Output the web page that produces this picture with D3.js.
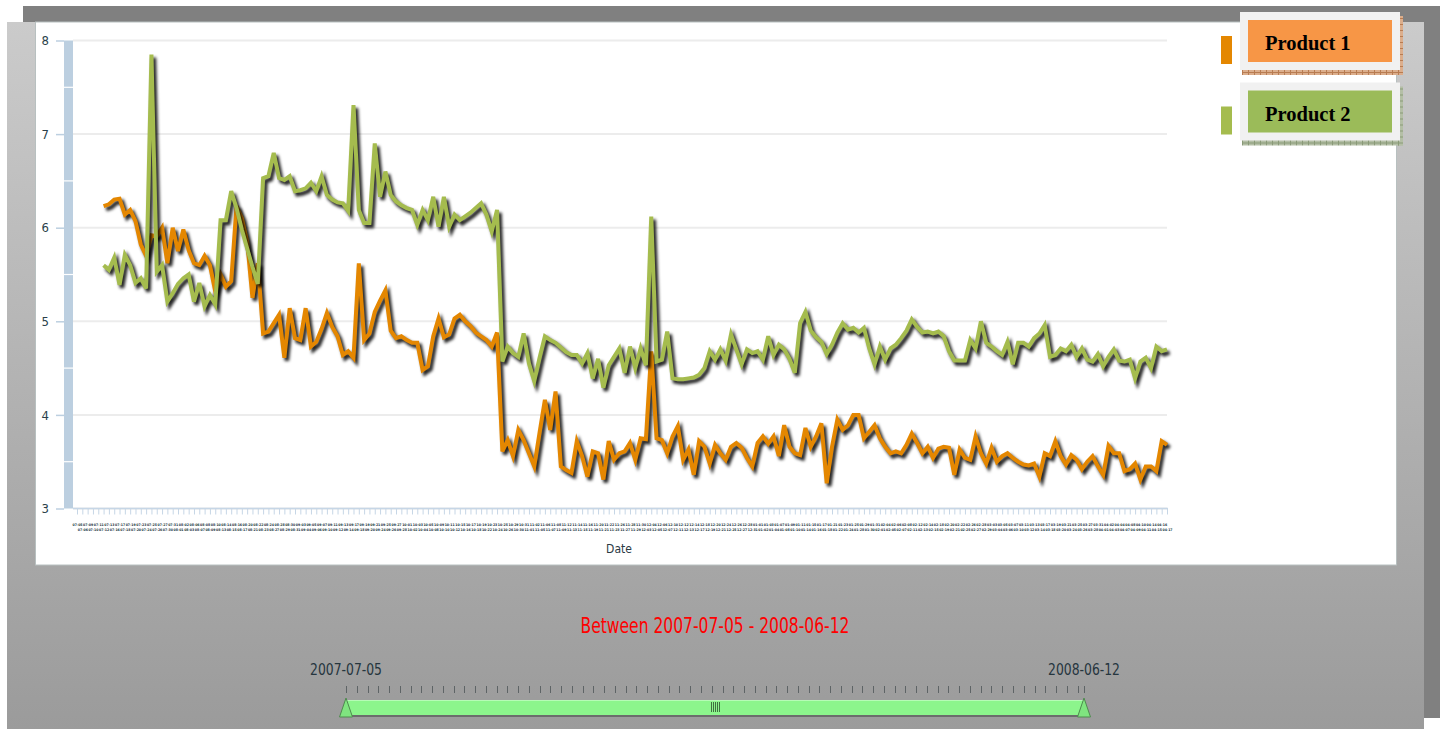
<!DOCTYPE html>
<html>
<head>
<meta charset="utf-8">
<script src="https://cdn.jsdelivr.net/npm/d3@7"></script>
<style>
  html, body { margin: 0; padding: 0; background: #fff; overflow: hidden; }
  svg { display: block; }
</style>
</head>
<body>
<svg id="chart" width="1445" height="729"></svg>
<script>
// ---- data -------------------------------------------------------------
const seriesNames = ["Product 1", "Product 2"];

const product1 = [
  6.23, 6.25, 6.30, 6.31, 6.14, 6.19, 6.07, 5.82, 5.70, 5.92,
  5.91, 6.00, 5.62, 6.00, 5.75, 5.98, 5.76, 5.62, 5.60, 5.70,
  5.60, 5.32, 5.50, 5.37, 5.43, 6.23, 6.10, 5.85, 5.25, 5.62,
  4.87, 4.89, 4.98, 5.07, 4.61, 5.14, 4.82, 4.80, 5.14, 4.73,
  4.78, 4.92, 5.09, 4.94, 4.84, 4.64, 4.68, 4.61, 5.62, 4.80,
  4.87, 5.10, 5.22, 5.33, 4.90, 4.82, 4.84, 4.80, 4.77, 4.77,
  4.48, 4.52, 4.84, 5.03, 4.83, 4.86, 5.03, 5.07, 5.00, 4.95,
  4.88, 4.84, 4.80, 4.73, 4.88, 3.61, 3.73, 3.56, 3.84, 3.73,
  3.59, 3.45, 3.81, 4.16, 3.84, 4.25, 3.45, 3.41, 3.38, 3.72,
  3.56, 3.34, 3.61, 3.59, 3.31, 3.72, 3.52, 3.59, 3.61, 3.70,
  3.52, 3.75, 3.74, 4.68, 3.75, 3.73, 3.59, 3.77, 3.88, 3.52,
  3.63, 3.36, 3.72, 3.66, 3.48, 3.68, 3.59, 3.52, 3.66, 3.70,
  3.65, 3.54, 3.45, 3.70, 3.77, 3.69, 3.77, 3.56, 3.89, 3.66,
  3.59, 3.57, 3.86, 3.66, 3.77, 3.91, 3.27, 3.66, 3.95, 3.84,
  3.89, 4.00, 4.00, 3.75, 3.82, 3.89, 3.75, 3.66, 3.59, 3.61,
  3.59, 3.68, 3.80, 3.70, 3.59, 3.66, 3.54, 3.64, 3.66, 3.65,
  3.36, 3.63, 3.54, 3.52, 3.77, 3.59, 3.48, 3.65, 3.50, 3.56,
  3.59, 3.54, 3.50, 3.47, 3.46, 3.48, 3.34, 3.59, 3.56, 3.72,
  3.56, 3.47, 3.57, 3.52, 3.42, 3.50, 3.56, 3.45, 3.36, 3.67,
  3.59, 3.59, 3.40, 3.42, 3.48, 3.31, 3.45, 3.45, 3.40, 3.72,
  3.68
];

const product2 = [
  5.60, 5.55, 5.68, 5.39, 5.71, 5.60, 5.41, 5.46, 5.35, 7.85,
  5.53, 5.60, 5.21, 5.30, 5.40, 5.46, 5.50, 5.21, 5.41, 5.16,
  5.28, 5.18, 6.08, 6.08, 6.39, 6.21, 5.98, 5.78, 5.58, 5.40,
  6.53, 6.55, 6.80, 6.53, 6.51, 6.55, 6.39, 6.40, 6.42, 6.48,
  6.39, 6.55, 6.35, 6.30, 6.27, 6.26, 6.18, 7.31, 6.19, 6.05,
  6.05, 6.90, 6.33, 6.60, 6.35, 6.28, 6.24, 6.21, 6.19, 6.03,
  6.19, 6.08, 6.33, 6.01, 6.33, 6.01, 6.14, 6.08, 6.12, 6.16,
  6.21, 6.26, 6.14, 5.96, 6.19, 4.57, 4.73, 4.66, 4.62, 4.87,
  4.55, 4.36, 4.61, 4.84, 4.80, 4.77, 4.72, 4.67, 4.64, 4.64,
  4.55, 4.66, 4.39, 4.60, 4.29, 4.53, 4.62, 4.71, 4.45, 4.73,
  4.50, 4.71, 4.53, 6.12, 4.57, 4.59, 4.89, 4.39, 4.38, 4.38,
  4.39, 4.40, 4.43, 4.50, 4.68, 4.59, 4.70, 4.58, 4.86, 4.70,
  4.54, 4.70, 4.66, 4.68, 4.59, 4.84, 4.64, 4.75, 4.70, 4.60,
  4.45, 4.98, 5.10, 4.90, 4.83, 4.78, 4.65, 4.75, 4.88, 4.98,
  4.91, 4.93, 4.88, 4.93, 4.71, 4.54, 4.73, 4.59, 4.71, 4.75,
  4.82, 4.90, 5.02, 4.94, 4.88, 4.89, 4.87, 4.89, 4.84, 4.68,
  4.58, 4.58, 4.58, 4.80, 4.71, 5.00, 4.77, 4.73, 4.68, 4.64,
  4.78, 4.54, 4.77, 4.77, 4.73, 4.82, 4.87, 4.96, 4.62, 4.64,
  4.71, 4.68, 4.75, 4.62, 4.71, 4.59, 4.57, 4.65, 4.52, 4.62,
  4.70, 4.58, 4.57, 4.59, 4.39, 4.57, 4.61, 4.50, 4.73, 4.68,
  4.70
];

const yTicks = [3, 4, 5, 6, 7, 8];
const yHalfTicks = [3.5, 4.5, 5.5, 6.5, 7.5];
const rangeStart = "2007-07-05";
const rangeEnd = "2008-06-12";
const leadingEmptyDates = 5;   // axis dates before the first reading
const sliderStepDays = 5;

// ---- helpers ------------------------------------------------------------
const parseDay = d3.utcParse("%Y-%m-%d");
const fmtDay = d3.utcFormat("%Y-%m-%d");
const fmtTick = d3.utcFormat("%m-%d");
const t0 = parseDay(rangeStart), t1 = parseDay(rangeEnd);

const nDates = leadingEmptyDates + product1.length;
const dates = d3.utcDay.range(t0, d3.utcDay.offset(t1, 1))
  .filter(d => d.getUTCDay() % 6 !== 0)
  .slice(0, nDates)
  .map(fmtDay);

const svg = d3.select("#chart");
const defs = svg.append("defs");

// ---- frame ------------------------------------------------------------
const bgGrad = defs.append("linearGradient").attr("id", "panelGrad")
  .attr("x1", 0).attr("y1", 0).attr("x2", 0).attr("y2", 1);
bgGrad.append("stop").attr("offset", "0%").attr("stop-color", "#cbcbcb");
bgGrad.append("stop").attr("offset", "100%").attr("stop-color", "#9b9b9b");

svg.append("rect").attr("x", 23).attr("y", 6).attr("width", 1417).attr("height", 712).attr("fill", "#808080");
svg.append("rect").attr("x", 7).attr("y", 22).attr("width", 1417).attr("height", 707).attr("fill", "url(#panelGrad)");
svg.append("rect").attr("x", 35.5).attr("y", 22).attr("width", 1361).attr("height", 543)
  .attr("fill", "#fff").attr("stroke", "#b8c0c0").attr("stroke-width", 1);

// ---- scales -----------------------------------------------------------
const x = d3.scalePoint().domain(dates).range([77, 1167]);
const y = d3.scaleLinear().domain([3, 8]).range([508.5, 40.5]);

const plot = svg.append("g");

// grid
plot.append("g").selectAll("line").data(yTicks).join("line")
  .attr("x1", 73).attr("x2", 1167)
  .attr("y1", d => y(d)).attr("y2", d => y(d))
  .attr("stroke", "#ececec").attr("stroke-width", 2);

// y axis: thick bar with notches at the half values
plot.append("rect").attr("x", 64).attr("y", y(8)).attr("width", 9).attr("height", y(3) - y(8))
  .attr("fill", "#bccfe0");
plot.append("g").selectAll("line").data(yHalfTicks).join("line")
  .attr("x1", 64).attr("x2", 73)
  .attr("y1", d => y(d)).attr("y2", d => y(d))
  .attr("stroke", "#fff").attr("stroke-width", 1.2);

const yAxis = plot.append("g").attr("transform", "translate(64,0)")
  .call(d3.axisLeft(y).tickValues(yTicks).tickSize(8).tickPadding(7).tickFormat(d3.format("d")));
yAxis.select(".domain").remove();
yAxis.selectAll(".tick line").attr("stroke", "#bccfe0").attr("stroke-width", 1.5);
yAxis.selectAll(".tick text")
  .attr("fill", "#2a3f4a")
  .style("font-family", "'DejaVu Sans Condensed','Liberation Sans Narrow','DejaVu Sans',sans-serif")
  .style("font-size", "13px");

// x axis: one tick per date, labels staggered on two rows
const xAxis = plot.append("g").attr("transform", "translate(0,508.5)")
  .call(d3.axisBottom(x).tickSize(6).tickSizeOuter(0).tickFormat(d => fmtTick(parseDay(d))));
xAxis.select(".domain").attr("stroke", "#c6d6e6").attr("stroke-width", 1.5)
  .attr("d", "M73,0H1168");
xAxis.selectAll(".tick line").attr("stroke", "#c6d6e6").attr("stroke-width", 1);
xAxis.selectAll(".tick text")
  .attr("y", (d, i) => (i % 2 === 0 ? 17 : 22))
  .attr("dy", null)
  .attr("fill", "#22343e")
  .style("font-family", "'DejaVu Sans Condensed','DejaVu Sans',sans-serif")
  .style("font-weight", "bold")
  .style("font-size", "3.5px");

plot.append("text").attr("x", 619).attr("y", 553).attr("text-anchor", "middle")
  .attr("fill", "#2a3a44")
  .style("font-family", "'DejaVu Sans Condensed','DejaVu Sans',sans-serif")
  .style("font-size", "12px")
  .text("Date");

// ---- lines ------------------------------------------------------------
const shadow = defs.append("filter").attr("id", "lineShadow")
  .attr("x", "-5%").attr("y", "-5%").attr("width", "110%").attr("height", "110%");
shadow.append("feGaussianBlur").attr("stdDeviation", 1.4);

const series = [
  { name: seriesNames[0], color: "#e48701", values: product1 },
  { name: seriesNames[1], color: "#a5bc4e", values: product2 }
];

const line = d3.line()
  .x(d => x(d.date))
  .y(d => y(d.value));

series.forEach(s => {
  const pts = s.values.map((v, i) => ({ date: dates[i + leadingEmptyDates], value: v }));
  plot.append("path").datum(pts)
    .attr("d", line)
    .attr("fill", "none")
    .attr("stroke", "#000")
    .attr("stroke-opacity", 0.85)
    .attr("stroke-width", 4.5)
    .attr("stroke-linejoin", "miter")
    .attr("transform", "translate(2.5,3)")
    .attr("filter", "url(#lineShadow)");
  plot.append("path").datum(pts)
    .attr("d", line)
    .attr("fill", "none")
    .attr("stroke", s.color)
    .attr("stroke-width", 4)
    .attr("stroke-linejoin", "miter");
});

// ---- legend -----------------------------------------------------------
const legendFill = ["#f79646", "#9bbb59"];
const rimBase = ["#dcae8c", "#b4bfa6"];
const rimLine = ["#b87c52", "#8a9a78"];
rimBase.forEach((c, i) => {
  const p = defs.append("pattern").attr("id", `rim${i}`)
    .attr("patternUnits", "userSpaceOnUse").attr("width", 6).attr("height", 6);
  p.append("rect").attr("width", 6).attr("height", 6).attr("fill", c);
  p.append("path").attr("d", "M0,0.5H6M0.5,0V6").attr("stroke", rimLine[i]).attr("stroke-width", 1);
});

const legend = svg.append("g");
series.forEach((s, i) => {
  const top = 12 + i * 70.5;
  const g = legend.append("g").attr("transform", `translate(0,${top})`);
  g.append("rect").attr("x", 1221).attr("y", 24).attr("width", 11).attr("height", 28)
    .attr("fill", s.color);
  // textured rim below and right of the box
  g.append("rect").attr("x", 1242).attr("y", 57).attr("width", 161).attr("height", 6)
    .attr("fill", `url(#rim${i})`);
  g.append("rect").attr("x", 1398).attr("y", 4).attr("width", 5).attr("height", 59)
    .attr("fill", `url(#rim${i})`);
  g.append("rect").attr("x", 1240).attr("y", 0).attr("width", 160).attr("height", 58)
    .attr("fill", "#f1f1f1");
  g.append("rect").attr("x", 1248).attr("y", 8).attr("width", 144).attr("height", 42)
    .attr("fill", legendFill[i]);
  g.append("text").attr("x", 1265).attr("y", 38)
    .attr("fill", "#000")
    .style("font-family", "'Liberation Serif','Times New Roman',serif")
    .style("font-weight", "bold")
    .style("font-size", "20.5px")
    .text(s.name);
});

// ---- range slider -----------------------------------------------------
const condensed = "'DejaVu Sans Condensed','Liberation Sans Narrow','DejaVu Sans',sans-serif";
svg.append("text").attr("x", 715).attr("y", 633).attr("text-anchor", "middle")
  .attr("fill", "#ff0000")
  .attr("textLength", 269).attr("lengthAdjust", "spacingAndGlyphs")
  .style("font-family", condensed)
  .style("font-size", "21px")
  .text(`Between ${rangeStart} - ${rangeEnd}`);

const sx = d3.scaleUtc().domain([t0, t1]).range([346, 1084]);
const sliderTicks = d3.utcDay.range(t0, t1, sliderStepDays).concat([t1]);

svg.append("g").selectAll("line").data(sliderTicks).join("line")
  .attr("x1", d => Math.round(sx(d)) + 0.5).attr("x2", d => Math.round(sx(d)) + 0.5)
  .attr("y1", 686).attr("y2", 693)
  .attr("stroke", "#5e6466").attr("stroke-width", 1);

[[t0, rangeStart], [t1, rangeEnd]].forEach(([d, label]) => {
  svg.append("text").attr("x", sx(d)).attr("y", 675).attr("text-anchor", "middle")
    .attr("fill", "#25353e")
    .attr("textLength", 72).attr("lengthAdjust", "spacingAndGlyphs")
    .style("font-family", condensed)
    .style("font-size", "15px")
    .text(label);
});

svg.append("rect").attr("x", sx(t0)).attr("y", 701).attr("width", sx(t1) - sx(t0)).attr("height", 16)
  .attr("fill", "#6c6c6c");
svg.append("rect").attr("x", sx(t0)).attr("y", 700).attr("width", sx(t1) - sx(t0)).attr("height", 15)
  .attr("fill", "#8cf58c");
svg.append("line").attr("x1", sx(t0)).attr("x2", sx(t1)).attr("y1", 700.5).attr("y2", 700.5)
  .attr("stroke", "#b6fbb6").attr("stroke-width", 1);

// grip in the middle of the bar
const mid = (sx(t0) + sx(t1)) / 2;
svg.append("g").selectAll("line").data(d3.range(-4, 5, 2)).join("line")
  .attr("x1", d => mid + d + 0.5).attr("x2", d => mid + d + 0.5)
  .attr("y1", 702).attr("y2", 712)
  .attr("stroke", "#3f6f3f").attr("stroke-width", 1);

// handles
[t0, t1].forEach(d => {
  const cx = sx(d);
  svg.append("path")
    .attr("d", `M${cx},698 L${cx - 6.5},717 L${cx + 6.5},717 Z`)
    .attr("fill", "#7fe57f").attr("stroke", "#4f8a4f").attr("stroke-width", 1);
});
</script>
</body>
</html>
